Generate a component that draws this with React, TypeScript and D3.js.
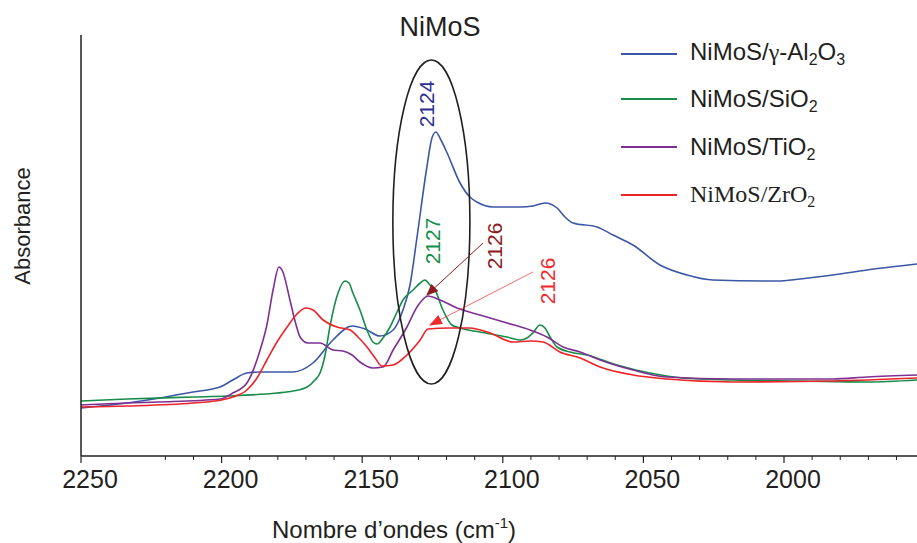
import React from "react";
import * as d3 from "d3";

// wavenumber (cm-1) and absorbance (a.u.)
const alWave = [2250, 2233.6, 2221.9, 2210.2, 2200.6, 2196, 2191, 2186.3, 2174.6, 2167.5, 2160.4, 2153.6, 2149, 2143.7, 2139, 2135.5, 2133, 2130.5, 2127, 2125.2, 2123.8, 2122, 2119.8, 2115.2, 2111.7, 2109.2, 2103.5, 2093.9, 2089.3, 2085, 2080.7, 2077.9, 2075, 2066.5, 2060.8, 2053.7, 2044.1, 2034.5, 2025.3, 2002.5, 1994.3, 1982.6, 1970.5, 1958.8, 1952.7];
const alAbs = [0.48, 0.53, 0.58, 0.64, 0.69, 0.76, 0.83, 0.84, 0.84, 0.93, 1.16, 1.3, 1.27, 1.2, 1.26, 1.46, 1.71, 2.19, 2.89, 3.18, 3.24, 3.16, 3.03, 2.73, 2.59, 2.54, 2.49, 2.49, 2.5, 2.53, 2.48, 2.39, 2.33, 2.29, 2.21, 2.11, 1.91, 1.81, 1.76, 1.75, 1.77, 1.81, 1.86, 1.9, 1.92];

const siWave = [2250, 2233.6, 2210.2, 2198, 2180.3, 2174.6, 2169.6, 2166.8, 2165, 2163.2, 2161.5, 2158.6, 2156.1, 2154.7, 2153.3, 2150.8, 2148.3, 2146.2, 2144.7, 2142.6, 2140.1, 2137.6, 2135.5, 2131.9, 2129.4, 2127.7, 2125.9, 2124.1, 2121.3, 2118.1, 2115.2, 2108.1, 2098.5, 2093.9, 2091.4, 2089.3, 2086.8, 2085, 2083.2, 2080.7, 2076.1, 2070.1, 2059.4, 2047.7, 2036.1, 2018.1, 1994.3, 1970.5, 1952.7];
const siAbs = [0.55, 0.57, 0.59, 0.6, 0.63, 0.65, 0.69, 0.76, 0.83, 1.01, 1.29, 1.63, 1.75, 1.73, 1.63, 1.46, 1.26, 1.14, 1.12, 1.18, 1.29, 1.44, 1.56, 1.66, 1.73, 1.76, 1.71, 1.66, 1.46, 1.31, 1.28, 1.24, 1.19, 1.16, 1.18, 1.23, 1.31, 1.28, 1.19, 1.09, 1.04, 1.01, 0.91, 0.83, 0.78, 0.76, 0.75, 0.74, 0.76];

const tiWave = [2250, 2233.6, 2221.9, 2200.6, 2196, 2191, 2186.3, 2183.9, 2181.7, 2179.6, 2178.2, 2175.7, 2173.5, 2172.1, 2169.3, 2165, 2160.4, 2156.8, 2153.6, 2150.8, 2146.2, 2142.6, 2139, 2134.1, 2130.5, 2126.6, 2122.3, 2116.3, 2108.1, 2098.5, 2090.3, 2084.3, 2078.6, 2072.5, 2065.4, 2053.7, 2041.6, 2018.1, 1982.6, 1970.5, 1952.7];
const tiAbs = [0.51, 0.53, 0.54, 0.57, 0.63, 0.73, 1.06, 1.31, 1.66, 1.89, 1.84, 1.56, 1.31, 1.19, 1.13, 1.13, 1.06, 1.05, 1.01, 0.94, 0.88, 0.89, 1.06, 1.29, 1.49, 1.6, 1.56, 1.48, 1.41, 1.33, 1.26, 1.19, 1.09, 1.04, 0.96, 0.86, 0.79, 0.77, 0.77, 0.79, 0.81];

const zrWave = [2250, 2233.6, 2210.2, 2200, 2196, 2191, 2187.4, 2183.9, 2180.3, 2176.7, 2173.2, 2170, 2167.5, 2163.9, 2159, 2154.3, 2151.5, 2148.3, 2145.4, 2143, 2139, 2134.1, 2129.4, 2126.6, 2118.8, 2111.7, 2104.6, 2096.4, 2090.3, 2085.7, 2079.7, 2072.5, 2065.4, 2053.7, 2041.6, 2018.1, 1982.6, 1952.7];
const zrAbs = [0.49, 0.5, 0.53, 0.56, 0.59, 0.66, 0.78, 0.96, 1.14, 1.29, 1.42, 1.48, 1.46, 1.36, 1.29, 1.26, 1.19, 1.09, 0.98, 0.9, 0.91, 1.01, 1.16, 1.27, 1.28, 1.28, 1.23, 1.14, 1.15, 1.14, 1.04, 0.98, 0.89, 0.81, 0.77, 0.74, 0.75, 0.78];

const majorTicks = [2250, 2200, 2150, 2100, 2050, 2000];
const minorTicks = [2220, 2210, 2190, 2180, 2170, 2160, 2140, 2130, 2120, 2110, 2090, 2080, 2070, 2060, 2040, 2030, 2020, 2010, 1990, 1980, 1970, 1960];

const seriesNames = ["al", "si", "ti", "zr"];
const seriesColors = ["#3b57a6", "#178c4a", "#7e3092", "#ee2329"];

// annotation values (data units)
const ellipseCenter = [2125.4, 2.34];
const ellipseRadii = [13.7, 1.62];
const peakLabels = ["2124", "2127", "2126", "2126"];
const peakLabelPos = [[2127.3, 3.52], [2125.2, 2.15], [2102.8, 2.1], [2084.3, 1.75]];
const peakLabelColors = ["#2e3192", "#13904a", "#8e1b1f", "#ef2b2d"];
const arrowFrom = [[2107, 2.13], [2089.3, 1.84]];
const arrowTo = [[2127, 1.61], [2125.9, 1.31]];

const W = 917;
const H = 543;
const SANS = "'Liberation Sans', Arial, Helvetica, sans-serif";
const SERIF = "'Liberation Serif', 'Times New Roman', serif";

export default function App() {
  const x = d3.scaleLinear().domain([2250, 1950]).range([81, 81 + 300 * 2.812]);
  const y = d3.scaleLinear().domain([0, 4.21]).range([456, 35]);

  const data = [
    [alWave, alAbs],
    [siWave, siAbs],
    [tiWave, tiAbs],
    [zrWave, zrAbs],
  ].map(([w, a]) => w.map((v, i) => [v, a[i]] as [number, number]));

  const line = d3
    .line<[number, number]>()
    .x((d) => x(d[0]))
    .y((d) => y(d[1]))
    .curve(d3.curveMonotoneX);

  const axisColor = "#231f20";
  const legendY = [54, 99, 147, 195];

  const ex = x(ellipseCenter[0]);
  const ey = y(ellipseCenter[1]);
  const erx = Math.abs(x(ellipseCenter[0] + ellipseRadii[0]) - ex);
  const ery = Math.abs(y(ellipseCenter[1] + ellipseRadii[1]) - ey);

  return (
    <svg
      width={W}
      height={H}
      style={{ position: "absolute", left: 0, top: 0, background: "#fff" }}
    >
      <defs>
        <marker id="headDark" viewBox="0 0 12 10" refX="11" refY="5" markerWidth="12" markerHeight="10" markerUnits="userSpaceOnUse" orient="auto">
          <path d="M0,0 L12,5 L0,10 z" fill="#8e1b1f" />
        </marker>
        <marker id="headRed" viewBox="0 0 13 10" refX="12" refY="5" markerWidth="13" markerHeight="10" markerUnits="userSpaceOnUse" orient="auto">
          <path d="M0,0 L13,5 L0,10 z" fill="#ef2b2d" />
        </marker>
        <clipPath id="plotClip">
          <rect x={81} y={0} width={W - 81} height={456} />
        </clipPath>
      </defs>

      {/* title */}
      <text x={440} y={36} fontFamily={SANS} fontSize={27} textAnchor="middle" fill="#231f20">
        NiMoS
      </text>

      {/* curves */}
      <g clipPath="url(#plotClip)">
        {data.map((d, i) => (
          <path key={seriesNames[i]} d={line(d) || ""} fill="none" stroke={seriesColors[i]} strokeWidth={1.6} />
        ))}
      </g>

      {/* axes */}
      <line x1={81} x2={81} y1={35} y2={456} stroke={axisColor} strokeWidth={1.5} />
      <line x1={81} x2={W} y1={456} y2={456} stroke={axisColor} strokeWidth={1.5} />
      {majorTicks.map((t) => (
        <g key={"M" + t}>
          <line x1={x(t)} x2={x(t)} y1={456} y2={463} stroke={axisColor} strokeWidth={1.2} />
          <text x={x(t) + 9} y={488} fontFamily={SANS} fontSize={25} textAnchor="middle" fill="#231f20">
            {t}
          </text>
        </g>
      ))}
      {minorTicks.map((t) => (
        <line key={"m" + t} x1={x(t)} x2={x(t)} y1={456} y2={460} stroke={axisColor} strokeWidth={1} />
      ))}

      {/* axis labels */}
      <text x={272} y={538} fontFamily={SANS} fontSize={24} fill="#231f20">
        Nombre d’ondes (cm
        <tspan fontSize={15} dy={-10}>-1</tspan>
        <tspan dy={10}>)</tspan>
      </text>
      <text
        transform={`translate(30,226) rotate(-90)`}
        fontFamily={SANS}
        fontSize={22}
        textAnchor="middle"
        fill="#231f20"
      >
        Absorbance
      </text>

      {/* ellipse */}
      <ellipse cx={ex} cy={ey} rx={erx} ry={ery} fill="none" stroke="#231f20" strokeWidth={1.6} />

      {/* arrows */}
      {arrowFrom.map((f, i) => (
        <line
          key={"arr" + i}
          x1={x(f[0])}
          y1={y(f[1])}
          x2={x(arrowTo[i][0])}
          y2={y(arrowTo[i][1])}
          stroke={i === 0 ? "#8e1b1f" : "#ef2b2d"}
          strokeWidth={i === 0 ? 1 : 0.7}
          markerEnd={i === 0 ? "url(#headDark)" : "url(#headRed)"}
        />
      ))}

      {/* peak labels */}
      {peakLabels.map((s, i) => (
        <text
          key={"pl" + i}
          transform={`translate(${x(peakLabelPos[i][0])},${y(peakLabelPos[i][1])}) rotate(-90)`}
          fontFamily={SANS}
          fontSize={21}
          textAnchor="middle"
          dy="0.36em"
          fill={peakLabelColors[i]}
        >
          {s}
        </text>
      ))}

      {/* legend */}
      {legendY.map((ly, i) => (
        <line key={"lg" + i} x1={621} x2={677} y1={ly} y2={ly} stroke={seriesColors[i]} strokeWidth={1.8} />
      ))}
      <text x={690} y={legendY[0] + 6} fontFamily={SANS} fontSize={24} fill="#231f20">
        NiMoS/<tspan fontFamily={SERIF}>γ</tspan>-Al<tspan fontSize={16} dy={5}>2</tspan>
        <tspan dy={-5}>O</tspan>
        <tspan fontSize={16} dy={5}>3</tspan>
      </text>
      <text x={690} y={legendY[1] + 8} fontFamily={SANS} fontSize={24} fill="#231f20">
        NiMoS/SiO<tspan fontSize={16} dy={5}>2</tspan>
      </text>
      <text x={690} y={legendY[2] + 8} fontFamily={SANS} fontSize={24} fill="#231f20">
        NiMoS/TiO<tspan fontSize={16} dy={5}>2</tspan>
      </text>
      <text x={690} y={legendY[3] + 7} fontFamily={SERIF} fontSize={24} fill="#231f20">
        NiMoS/ZrO<tspan fontSize={16} dy={5}>2</tspan>
      </text>
    </svg>
  );
}
